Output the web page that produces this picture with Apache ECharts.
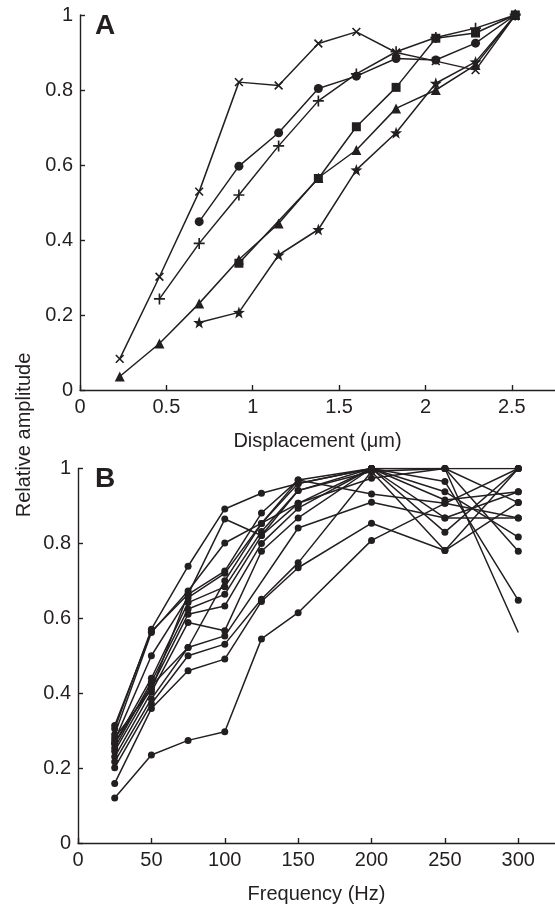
<!DOCTYPE html>
<html>
<head>
<meta charset="utf-8">
<script src="https://cdn.jsdelivr.net/npm/echarts@6/dist/echarts.min.js"></script>
<style>
  html, body { margin: 0; padding: 0; background: #fff; }
  #chart { width: 555px; height: 905px; }
</style>
</head>
<body>
<div id="chart"></div>
<script>
// Panel A: displacement steps (um) and relative amplitude per marker type
const dispX = [0.23, 0.46, 0.69, 0.92, 1.15, 1.38, 1.6, 1.83, 2.06, 2.29, 2.52];
const crossVals = [0.083, 0.302, 0.529, 0.821, 0.812, 0.924, 0.955, 0.900, 0.877, 0.853, 1.0];
const circleVals = [null, null, 0.449, 0.597, 0.686, 0.804, 0.837, 0.884, 0.880, 0.925, 1.0];
const plusVals = [null, 0.243, 0.391, 0.520, 0.651, 0.771, 0.843, 0.902, 0.940, 0.965, 1.0];
const triangleVals = [0.036, 0.124, 0.231, 0.348, 0.444, 0.566, 0.640, 0.751, 0.800, 0.867, 1.0];
const squareVals = [null, null, null, 0.338, null, 0.564, 0.702, 0.807, 0.938, 0.952, 1.0];
const starVals = [null, null, 0.180, 0.207, 0.360, 0.428, 0.587, 0.686, 0.818, 0.875, 1.0];

const xTicksA = [0, 0.5, 1, 1.5, 2, 2.5];

// Panel B: stimulus frequencies (Hz) and one row of amplitudes per recording
const freqs = [25, 50, 75, 100, 125, 150, 200, 250, 300];
const bLines = [
  [0.120, 0.235, 0.274, 0.297, 0.545, 0.615, 0.808, 0.907, 0.868],
  [0.159, 0.359, 0.460, 0.491, 0.645, 0.735, 0.854, 0.781, 0.909],
  [0.201, 0.372, 0.500, 0.531, 0.651, 0.748, 0.992, 0.781, 1.000],
  [0.217, 0.385, 0.522, 0.553, null, 0.841, 0.910, 0.868, 0.868],
  [0.230, 0.403, 0.589, 0.567, 0.779, 0.868, 1.000, 1.000, 0.562],
  [0.245, 0.416, 0.611, 0.633, 0.800, 0.894, 1.000, 0.965, 0.648],
  [0.254, 0.430, 0.625, 0.664, 0.821, 0.907, 0.974, 1.000, 0.779],
  [0.266, 0.440, 0.642, 0.684, 0.832, 0.941, 1.000, 0.938, 0.817],
  [0.274, 0.500, 0.655, 0.720, 0.853, 0.960, 1.000, 0.916, 0.938],
  [0.281, 0.410, 0.664, 0.726, 0.881, 0.969, 0.932, 0.907, 1.000],
  [0.290, 0.562, 0.673, 0.801, null, 0.907, 1.000, 0.868, 0.938],
  [0.305, 0.571, 0.739, 0.892, 0.934, 0.960, 1.000, 1.000, 0.909],
  [0.314, 0.565, 0.664, 0.865, 0.821, 0.941, 0.992, 1.000, 1.000],
  [0.266, 0.420, 0.522, 0.700, 0.853, 0.969, 1.000, 0.830, 1.000]
];
// this recording's last point (300 Hz) is drawn without a marker
const bareEndLine = 4;

const xTicksB = [0, 50, 100, 150, 200, 250, 300];

const ink = '#231f20';
const font = '"Liberation Sans", Arial, Helvetica, sans-serif';

// marker shapes
const plusPath = 'path://M0,4.25H10V5.75H0Z M4.25,0H5.75V10H4.25Z';
const starPath = 'path://M5,0L6.18,3.38L9.76,3.46L6.9,5.62L7.94,9.05L5,7L2.06,9.05L3.1,5.62L0.24,3.46L3.82,3.38Z';

function pairs(xs, ys) {
  return xs.map((x, i) => [x, ys[i]]);
}

function axisX(grid, max, ticks, name, gap) {
  return {
    type: 'value',
    gridIndex: grid,
    min: 0,
    max: max,
    name: name,
    nameLocation: 'middle',
    nameGap: gap,
    nameTextStyle: { color: ink, fontSize: 20, fontFamily: font },
    splitLine: { show: false },
    axisLine: { onZero: false, lineStyle: { color: ink, width: 1.4 } },
    axisTick: { inside: true, length: 5, customValues: ticks, lineStyle: { color: ink, width: 1.4 } },
    axisLabel: { margin: 7, customValues: ticks, color: ink, fontSize: 20, fontFamily: font }
  };
}

function axisY(grid) {
  return {
    type: 'value',
    gridIndex: grid,
    min: 0,
    max: 1,
    interval: 0.2,
    splitLine: { show: false },
    axisLine: { show: true, onZero: false, lineStyle: { color: ink, width: 1.4 } },
    axisTick: { show: true, inside: true, length: 5, lineStyle: { color: ink, width: 1.4 } },
    axisLabel: { margin: 7, color: ink, fontSize: 20, fontFamily: font }
  };
}

function seriesA(vals, symbol, size, rotate) {
  return {
    type: 'line',
    xAxisIndex: 0,
    yAxisIndex: 0,
    data: pairs(dispX, vals),
    connectNulls: true,
    symbol: symbol,
    symbolSize: size,
    symbolRotate: rotate || 0,
    lineStyle: { color: ink, width: 1.5 },
    itemStyle: { color: ink, borderWidth: 0 },
    animation: false
  };
}

const series = [
  seriesA(crossVals, plusPath, 11, 45),
  seriesA(circleVals, 'circle', 9),
  seriesA(plusVals, plusPath, 11),
  seriesA(triangleVals, 'triangle', 10),
  seriesA(squareVals, 'rect', 9),
  seriesA(starVals, starPath, 12)
];

bLines.forEach((row, k) => {
  const data = pairs(freqs, row);
  if (k === bareEndLine) {
    const last = data.length - 1;
    data[last] = { value: data[last], symbol: 'none' };
  }
  series.push({
    type: 'line',
    xAxisIndex: 1,
    yAxisIndex: 1,
    data: data,
    connectNulls: true,
    symbol: 'circle',
    symbolSize: 7,
    lineStyle: { color: ink, width: 1.5 },
    itemStyle: { color: ink, borderWidth: 0 },
    animation: false
  });
});

const chart = echarts.init(document.getElementById('chart'), null, { renderer: 'canvas' });
chart.setOption({
  backgroundColor: '#fff',
  animation: false,
  grid: [
    { left: 80, top: 15, width: 475, height: 375 },
    { left: 78, top: 468.5, width: 477, height: 376.5 }
  ],
  xAxis: [
    axisX(0, 2.75, xTicksA, 'Displacement (\u03bcm)', 41),
    axisX(1, 325, xTicksB, 'Frequency (Hz)', 41)
  ],
  yAxis: [axisY(0), axisY(1)],
  graphic: [
    { type: 'text', left: 95, top: 12, style: { text: 'A', fill: ink, font: 'bold 28px ' + font } },
    { type: 'text', left: 95, top: 465, style: { text: 'B', fill: ink, font: 'bold 28px ' + font } },
    {
      type: 'text', x: 24, y: 435, rotation: Math.PI / 2,
      style: { text: 'Relative amplitude', fill: ink, font: '20px ' + font, align: 'center', verticalAlign: 'middle' }
    }
  ],
  series: series
});
</script>
</body>
</html>
